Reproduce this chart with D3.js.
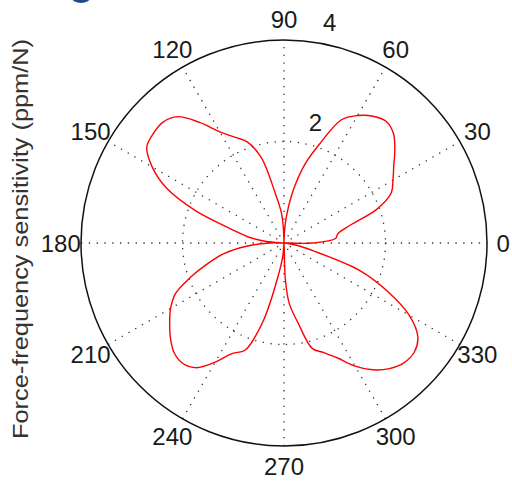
<!DOCTYPE html>
<html>
<head>
<meta charset="utf-8">
<script src="https://cdn.jsdelivr.net/npm/d3@7"></script>
<style>
  html, body { margin: 0; padding: 0; background: #fff; }
  svg text { font-family: "Liberation Sans", Arial, sans-serif; fill: #1a1a1a; }
</style>
</head>
<body>
<svg id="chart" width="512" height="483"></svg>
<script>
// measured angle (deg) and force-frequency sensitivity (ppm/N)
var angleDeg = [0,5,10,15,20,25,30,35,40,45,50,55,60,65,70,75,80,85,88,
                90,92,95,100,105,110,115,120,125,130,135,140,145,150,155,160,165,170,175,178,
                180,185,190,195,200,205,210,215,220,225,230,235,240,245,250,255,260,265,
                270,272,275,280,285,290,295,300,305,310,315,320,325,330,335,340,345,350,355,358];
var sensitivity = [0.57,1.02,1.08,1.35,1.95,2.33,2.48,2.64,2.85,3.05,3.13,3.05,2.90,2.68,2.10,1.62,1.06,0.50,0.18,
                   0.00,0.25,0.60,1.00,1.75,2.12,2.30,2.53,2.90,3.25,3.37,3.36,3.30,3.00,2.55,1.85,1.10,0.74,0.35,0.00,
                   0.28,0.74,1.20,1.55,1.95,2.36,2.58,2.75,2.92,3.06,3.10,3.00,2.71,2.40,2.25,1.60,0.65,0.25,
                   0.00,0.70,1.20,1.60,2.15,2.30,2.50,2.80,3.05,3.23,3.34,3.35,3.22,2.85,2.25,1.60,0.60,0.25,0.05,0.00];

var spokeAngles = [0,30,60,90,120,150];
var angleLabels = ["0","30","60","90","120","150","180","210","240","270","300","330"];
var ringTicks = [2,4];

var svg = d3.select("#chart"),
	cx = 284, cy = 243, R = 203;

var r = d3.scaleLinear().domain([0,4]).range([0,R]);

var g = svg.append("g").attr("transform","translate(" + cx + "," + cy + ")");

// matlab angle (ccw from east) -> x,y
function pt(deg, rad){
	var a = deg * Math.PI / 180;
	return [rad * Math.cos(a), -rad * Math.sin(a)];
}

// background disc
g.append("circle").attr("r",R).attr("fill","#fff");

// spokes
spokeAngles.forEach(function(a){
	var p = pt(a, R);
	g.append("line")
		.attr("x1",-p[0]).attr("y1",-p[1])
		.attr("x2",p[0]).attr("y2",p[1])
		.attr("stroke","#333").attr("stroke-width",1.3)
		.attr("stroke-dasharray","1.3,6.5");
});

// inner dotted ring(s)
ringTicks.slice(0,-1).forEach(function(t){
	g.append("circle").attr("r",r(t))
		.attr("fill","none").attr("stroke","#333").attr("stroke-width",1.3)
		.attr("stroke-dasharray","1.3,6.5");
});

// outer ring
g.append("circle").attr("r",r(4))
	.attr("fill","none").attr("stroke","#111").attr("stroke-width",1.5);

// angle labels
angleLabels.forEach(function(lab){
	var p = pt(+lab, R * 1.1);
	if(lab === "0") p[0] -= 4; // keep inside the frame
	g.append("text")
		.attr("x",p[0]).attr("y",p[1])
		.attr("text-anchor","middle").attr("dy","0.36em")
		.style("font-size","24px")
		.text(lab);
});

// ring labels
ringTicks.forEach(function(t){
	var p = pt(82, r(t + 0.1));
	g.append("text")
		.attr("x",p[0] + 10).attr("y",p[1] - 6)
		.style("font-size","24px")
		.text(t);
});

// data curve
var line = d3.lineRadial()
	.angle(function(d){ return (90 - d[0]) * Math.PI / 180; })
	.radius(function(d){ return r(d[1]); })
	.curve(d3.curveCatmullRomClosed.alpha(0.5));

g.append("path")
	.datum(angleDeg.map(function(a,i){ return [a, sensitivity[i]]; }))
	.attr("d",line)
	.attr("fill","none").attr("stroke","#ff0000").attr("stroke-width",1.4)
	.attr("stroke-linejoin","round");

// y label
svg.append("text")
	.attr("transform","translate(28,239) rotate(-90)")
	.attr("text-anchor","middle")
	.attr("textLength",400).attr("lengthAdjust","spacingAndGlyphs")
	.style("font-size","22px")
	.style("fill","#333")
	.text("Force-frequency sensitivity (ppm/N)");

// clipped title glyph at top-left
svg.append("ellipse").attr("cx",81).attr("cy",-2).attr("rx",9).attr("ry",5).attr("fill","#1d4c86");
</script>
</body>
</html>
